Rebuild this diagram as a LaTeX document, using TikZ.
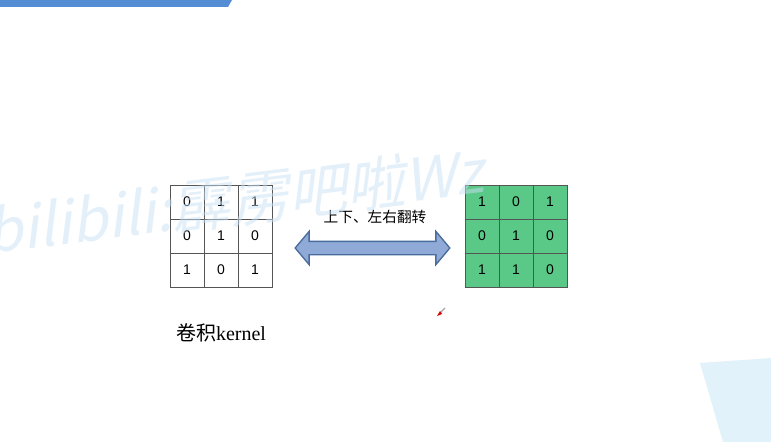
\documentclass[tikz,border=0pt]{standalone}
\usepackage{fontspec}
\setmainfont{Liberation Serif}
\setsansfont{Liberation Sans}
\newfontfamily\cjk{Noto Sans CJK SC}
\usetikzlibrary{shapes.arrows}
\definecolor{barblue}{RGB}{84,141,212}
\definecolor{cellgreen}{RGB}{90,200,134}
\definecolor{gridgray}{RGB}{85,85,85}
\definecolor{arrowfill}{RGB}{143,170,214}
\definecolor{arrowedge}{RGB}{72,108,158}
\definecolor{markblue}{RGB}{200,225,245}
\definecolor{cornerblue}{RGB}{226,242,250}
\tikzset{
  kcell/.style={draw=gridgray, fill=white, minimum size=25.5pt, inner sep=0pt,
    font=\sffamily\fontsize{10.5}{12}\selectfont},
  fcell/.style={kcell, fill=cellgreen},
}
\begin{document}
\begin{tikzpicture}[x=0.75pt,y=-0.75pt]
  \useasboundingbox (0,0) rectangle (771,442);
  \fill[white] (0,0) rectangle (771,442);
  \fill[barblue] (0,0) -- (232,0) -- (228,7) -- (0,7) -- cycle;
  \fill[cornerblue] (700,363) -- (771,358) -- (771,442) -- (723,442) -- cycle;
  % kernel
  \node[kcell] (k11) at (187,202) {0};
  \node[kcell] (k12) at (221,202) {1};
  \node[kcell] (k13) at (255,202) {1};
  \node[kcell] (k21) at (187,236) {0};
  \node[kcell] (k22) at (221,236) {1};
  \node[kcell] (k23) at (255,236) {0};
  \node[kcell] (k31) at (187,270) {1};
  \node[kcell] (k32) at (221,270) {0};
  \node[kcell] (k33) at (255,270) {1};
  \node[font=\fontsize{15}{18}\selectfont] (klabel) at (221,333) {\cjk 卷积\rmfamily kernel};
  % flipped kernel
  \node[fcell] (f11) at (482,202) {1};
  \node[fcell] (f12) at (516,202) {0};
  \node[fcell] (f13) at (550,202) {1};
  \node[fcell] (f21) at (482,236) {0};
  \node[fcell] (f22) at (516,236) {1};
  \node[fcell] (f23) at (550,236) {0};
  \node[fcell] (f31) at (482,270) {1};
  \node[fcell] (f32) at (516,270) {1};
  \node[fcell] (f33) at (550,270) {0};
  % flip arrow
  \node[double arrow, draw=arrowedge, fill=arrowfill, line width=1pt,
    minimum height=116pt, minimum width=24pt, inner xsep=0pt, inner ysep=4.5pt,
    double arrow head extend=7.5pt, double arrow tip angle=100] (flip) at (372.5,248) {};
  \node[font=\cjk\fontsize{11}{13}\selectfont] (fliptext) at (375,217) {上下、左右翻转};
  % cursor
  \draw[gray!70, line width=1pt] (445,308) -- (440,313);
  \fill[red!85!black] (437,316) -- (440,311) -- (442,314) -- cycle;
  % watermark
  \node[text=markblue, text opacity=0.5, font=\cjk\fontsize{44}{46}\selectfont,
    rotate=7, xslant=.25, anchor=base west] (mark) at (-16,254) {bilibili:霹雳吧啦Wz};
\end{tikzpicture}
\end{document}
